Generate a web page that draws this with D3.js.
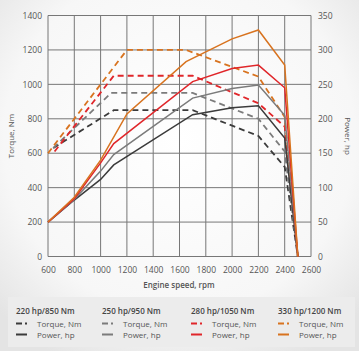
<!DOCTYPE html>
<html>
<head>
<meta charset="utf-8">
<script src="https://cdn.jsdelivr.net/npm/d3@7"></script>
<style>
  html, body { margin: 0; padding: 0; background: #f2f2f2; }
  svg { display: block; font-family: "Open Sans", "Liberation Sans", sans-serif; }
</style>
</head>
<body>
<svg id="chart"></svg>
<script>
// engine variants
const variants = ['220 hp/850 Nm', '250 hp/950 Nm', '280 hp/1050 Nm', '330 hp/1200 Nm'];
const colors = ['#3b3b3b', '#7b7b7b', '#e0262a', '#d8731f'];

// torque curves [rpm, Nm]
const torque220 = [[640, 630], [1100, 850], [1700, 850], [2200, 700], [2400, 520], [2500, 0]];
const torque250 = [[640, 630], [1080, 950], [1700, 950], [2200, 800], [2400, 610], [2500, 0]];
const torque280 = [[650, 610], [1100, 1050], [1700, 1050], [2200, 890], [2400, 755], [2500, 0]];
const torque330 = [[600, 600], [1200, 1200], [1650, 1200], [2200, 1045], [2400, 810], [2500, 0]];

// power curves [rpm, hp]
const power220 = [[600, 50], [800, 82], [1000, 112], [1100, 133], [1700, 206], [2000, 216], [2200, 219], [2400, 172], [2500, 0]];
const power250 = [[600, 50], [800, 83], [1000, 124], [1100, 148], [1700, 230], [2000, 244], [2200, 249], [2400, 205], [2500, 0]];
const power280 = [[600, 50], [800, 84], [1000, 136], [1100, 164], [1700, 254], [2000, 273], [2200, 278], [2400, 245], [2500, 0]];
const power330 = [[600, 50], [800, 86], [1000, 140], [1200, 207], [1650, 283], [2000, 316], [2200, 329], [2400, 278], [2500, 0]];

const torqueSeries = [torque220, torque250, torque280, torque330];
const powerSeries = [power220, power250, power280, power330];

const rpmTicks = [600, 800, 1000, 1200, 1400, 1600, 1800, 2000, 2200, 2400, 2600];
const torqueTicks = [0, 200, 400, 600, 800, 1000, 1200, 1400];
const powerTicks = [0, 50, 100, 150, 200, 250, 300, 350];

const width = 359;
const height = 351;
const plot = { left: 48, right: 311, top: 15.5, bottom: 256.5 };

const svg = d3.select('#chart')
    .attr('width', width)
    .attr('height', height);

// background
const defs = svg.append('defs');
const bg = defs.append('radialGradient')
    .attr('id', 'bg')
    .attr('cx', '50%').attr('cy', '40%').attr('r', '70%');
bg.append('stop').attr('offset', '0%').attr('stop-color', '#ffffff');
bg.append('stop').attr('offset', '70%').attr('stop-color', '#f7f7f7');
bg.append('stop').attr('offset', '100%').attr('stop-color', '#e4e4e4');

svg.append('rect')
    .attr('width', width)
    .attr('height', height)
    .attr('fill', 'url(#bg)');

const x = d3.scaleLinear().domain([600, 2600]).range([plot.left, plot.right]);
const yT = d3.scaleLinear().domain([0, 1400]).range([plot.bottom, plot.top]);
const yP = d3.scaleLinear().domain([0, 350]).range([plot.bottom, plot.top]);

// grid
svg.append('g')
    .selectAll('line')
    .data(rpmTicks)
    .enter()
    .append('line')
    .attr('x1', d => x(d)).attr('x2', d => x(d))
    .attr('y1', plot.top).attr('y2', plot.bottom)
    .attr('stroke', '#777')
    .attr('stroke-width', 1);

svg.append('g')
    .selectAll('line')
    .data(torqueTicks)
    .enter()
    .append('line')
    .attr('x1', plot.left).attr('x2', plot.right)
    .attr('y1', d => yT(d)).attr('y2', d => yT(d))
    .attr('stroke', '#777')
    .attr('stroke-width', 1);

// axes (labels only, grid drawn above)
const styleAxis = g => {
    g.select('.domain').remove();
    g.selectAll('line').remove();
    g.selectAll('text')
        .attr('font-size', '8.5px')
        .attr('fill', '#555')
        .attr('font-family', '"Open Sans", sans-serif');
};

svg.append('g')
    .attr('transform', `translate(${plot.left},0)`)
    .call(d3.axisLeft(yT).tickValues(torqueTicks).tickSize(0).tickPadding(6).tickFormat(d3.format('d')))
    .call(styleAxis);

svg.append('g')
    .attr('transform', `translate(${plot.right},0)`)
    .call(d3.axisRight(yP).tickValues(powerTicks).tickSize(0).tickPadding(7).tickFormat(d3.format('d')))
    .call(styleAxis);

svg.append('g')
    .attr('transform', `translate(0,${plot.bottom})`)
    .call(d3.axisBottom(x).tickValues(rpmTicks).tickSize(0).tickPadding(10).tickFormat(d3.format('d')))
    .call(styleAxis);

// axis titles
svg.append('text')
    .attr('transform', `translate(14,${(plot.top + plot.bottom) / 2}) rotate(-90)`)
    .attr('text-anchor', 'middle')
    .attr('font-size', '8px')
    .attr('fill', '#555')
    .text('Torque, Nm');

svg.append('text')
    .attr('transform', `translate(345,${(plot.top + plot.bottom) / 2}) rotate(90)`)
    .attr('text-anchor', 'middle')
    .attr('font-size', '8px')
    .attr('fill', '#555')
    .text('Power, hp');

svg.append('text')
    .attr('x', 179)
    .attr('y', 288)
    .attr('text-anchor', 'middle')
    .attr('font-size', '8px')
    .attr('font-weight', '600')
    .attr('fill', '#555')
    .text('Engine speed, rpm');

// curves
const lineT = d3.line().x(d => x(d[0])).y(d => yT(d[1]));
const lineP = d3.line().x(d => x(d[0])).y(d => yP(d[1]));

torqueSeries.forEach((s, i) => {
    svg.append('path')
        .attr('d', lineT(s))
        .attr('fill', 'none')
        .attr('stroke', colors[i])
        .attr('stroke-width', 1.8)
        .attr('stroke-dasharray', '6,4');
});

powerSeries.forEach((s, i) => {
    svg.append('path')
        .attr('d', lineP(s))
        .attr('fill', 'none')
        .attr('stroke', colors[i])
        .attr('stroke-width', 1.5);
});

// legend
svg.append('rect')
    .attr('x', 8)
    .attr('y', 297)
    .attr('width', 347)
    .attr('height', 50)
    .attr('fill', '#ececec');

const legendX = [16, 102, 191, 278];
variants.forEach((name, i) => {
    const g = svg.append('g').attr('transform', `translate(${legendX[i]},0)`);
    g.append('text')
        .attr('x', 0).attr('y', 313.5)
        .attr('font-size', '8px')
        .attr('font-weight', '600')
        .attr('fill', '#444')
        .text(name);
    g.append('line')
        .attr('x1', 0).attr('x2', 11)
        .attr('y1', 323.5).attr('y2', 323.5)
        .attr('stroke', colors[i])
        .attr('stroke-width', 2)
        .attr('stroke-dasharray', '6,3,2,10');
    g.append('text')
        .attr('x', 21).attr('y', 326.5)
        .attr('font-size', '8px')
        .attr('fill', '#555')
        .text('Torque, Nm');
    g.append('line')
        .attr('x1', 0).attr('x2', 11)
        .attr('y1', 334.5).attr('y2', 334.5)
        .attr('stroke', colors[i])
        .attr('stroke-width', 2);
    g.append('text')
        .attr('x', 21).attr('y', 337.5)
        .attr('font-size', '8px')
        .attr('fill', '#555')
        .text('Power, hp');
});
</script>
</body>
</html>
